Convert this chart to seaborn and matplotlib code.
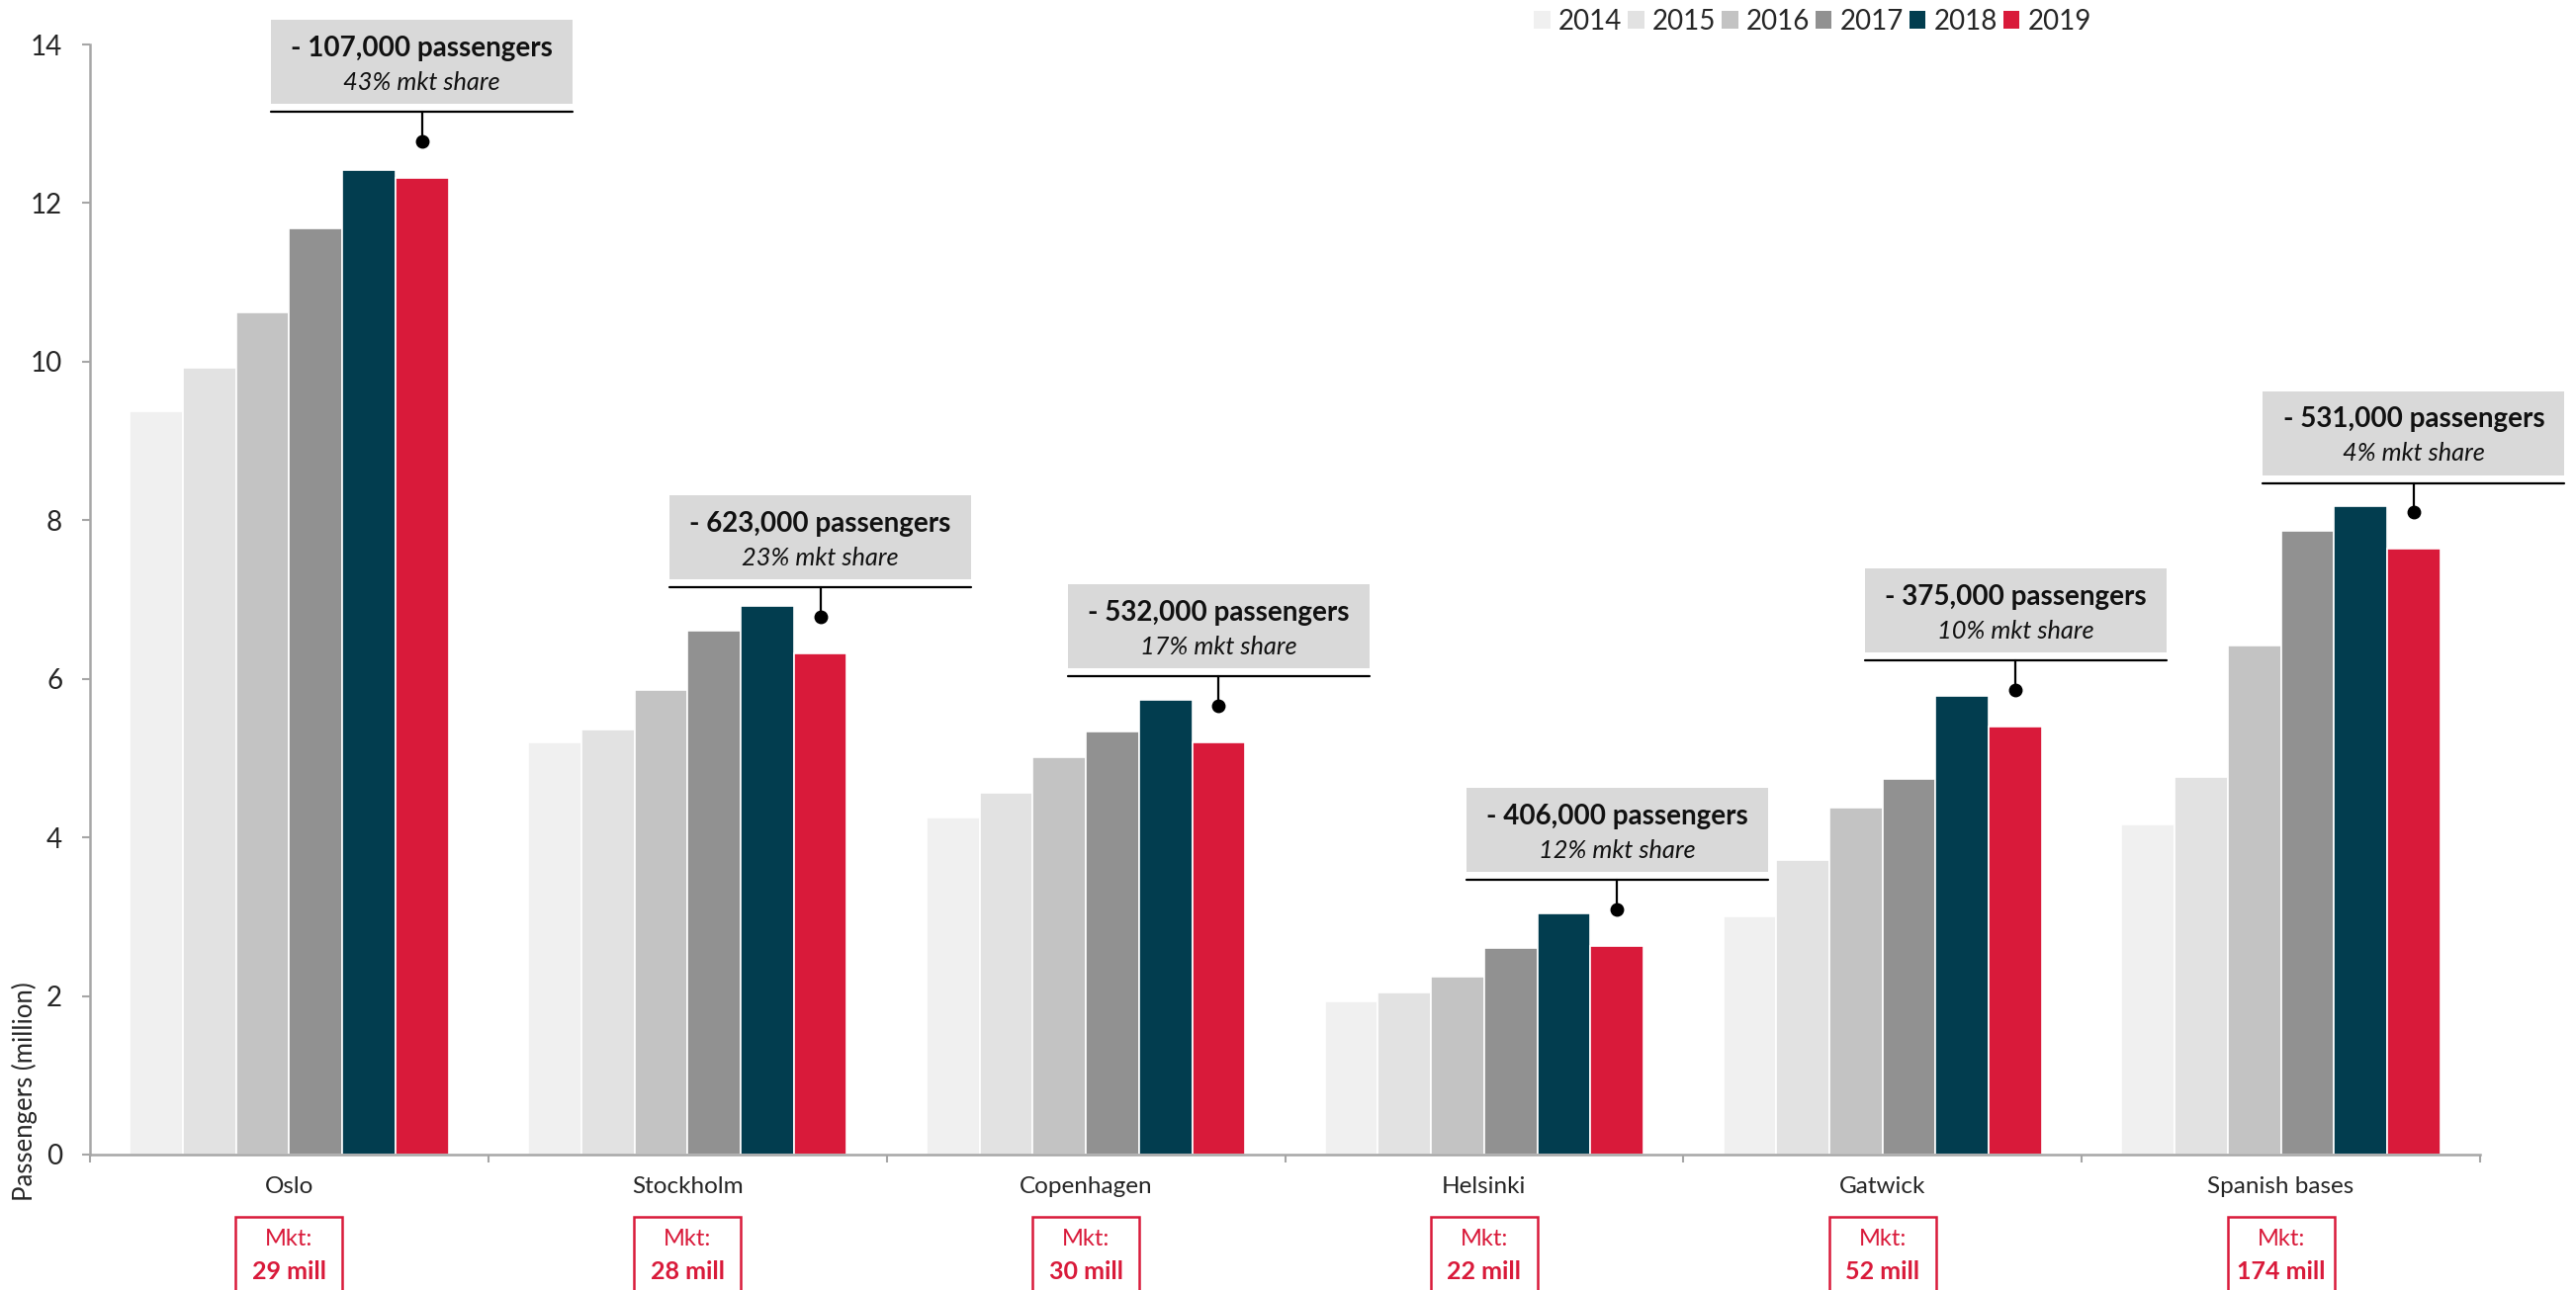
import numpy as np
import pandas as pd
import matplotlib
matplotlib.use("Agg")
import matplotlib.pyplot as plt
import matplotlib.transforms as mtransforms
from matplotlib.patches import Rectangle, Patch
import seaborn as sns

# ---------------- data ----------------
airports = ["Oslo", "Stockholm", "Copenhagen", "Helsinki", "Gatwick", "Spanish bases"]
years = ["2014", "2015", "2016", "2017", "2018", "2019"]
v2014 = [9.38, 5.20, 4.25, 1.93, 3.00, 4.16]
v2015 = [9.92, 5.36, 4.56, 2.05, 3.71, 4.76]
v2016 = [10.62, 5.86, 5.01, 2.24, 4.37, 6.42]
v2017 = [11.68, 6.61, 5.34, 2.61, 4.74, 7.87]
v2018 = [12.42, 6.92, 5.74, 3.04, 5.78, 8.18]
v2019 = [12.32, 6.32, 5.20, 2.63, 5.40, 7.64]
loss_labels = ["- 107,000 passengers", "- 623,000 passengers", "- 532,000 passengers",
               "- 406,000 passengers", "- 375,000 passengers", "- 531,000 passengers"]
share_labels = ["43% mkt share", "23% mkt share", "17% mkt share",
                "12% mkt share", "10% mkt share", "4% mkt share"]
market_labels = ["29 mill", "28 mill", "30 mill", "22 mill", "52 mill", "174 mill"]
yticks = [0, 2, 4, 6, 8, 10, 12, 14]

colors = ["#f0f0f0", "#e2e2e2", "#c3c3c3", "#919191", "#023d4f", "#d91a3a"]
RED = "#d91a3a"

series = [v2014, v2015, v2016, v2017, v2018, v2019]
rows = []
for y, vals in zip(years, series):
    for a, v in zip(airports, vals):
        rows.append({"airport": a, "year": y, "value": v})
df = pd.DataFrame(rows)

sns.set_style("white")
FONT = ["Lato", "DejaVu Sans"]
plt.rcParams["font.family"] = FONT

fig = plt.figure(figsize=(26.05, 13.05), dpi=100)
ax = fig.add_axes([91 / 2605, 1 - 1168 / 1305, (2508 - 91) / 2605, (1168 - 45) / 1305])

sns.barplot(data=df, x="airport", y="value", hue="year", order=airports, hue_order=years,
            palette=colors, width=0.8, gap=0, edgecolor="white", linewidth=1.2,
            saturation=1, ax=ax, legend=False, errorbar=None)

ax.set_xlim(-0.5, len(airports) - 0.5)
ax.set_ylim(0, 14)
ax.set_yticks(yticks)
ax.set_ylabel("Passengers (million)", fontsize=18.5, loc="bottom")
ax.yaxis.set_label_coords((38 - 91) / 2417, (1168 - 1215) / 1123)
ax.set_xlabel("")
for s in ["top", "right"]:
    ax.spines[s].set_visible(False)
for s in ["left", "bottom"]:
    ax.spines[s].set_color("#a6a6a6")
    ax.spines[s].set_linewidth(1.8)
ax.tick_params(axis="y", length=6, width=1.5, color="#a6a6a6", labelsize=20, pad=14, left=True)
ax.tick_params(axis="x", which="major", length=0, labelsize=17.5, pad=16, bottom=True)
ax.set_xticks(np.arange(-0.5, len(airports), 1.0), minor=True)
ax.tick_params(axis="x", which="minor", length=6, width=1.5, color="#a6a6a6", bottom=True)

# annotations above 2019 bars
bars2019 = ax.containers[5]
for i, p in enumerate(bars2019.patches):
    xc = p.get_x() + p.get_width() / 2
    top = p.get_height()
    dot_y = top + 0.46
    line_y = dot_y + 0.37
    box_b = line_y + 0.10
    box_h = 1.06
    half = 0.757 / 2
    ax.add_patch(Rectangle((xc - half, box_b), 2 * half, box_h, facecolor="#d9d9d9",
                           edgecolor="none", clip_on=False, zorder=5))
    ax.plot([xc - half, xc + half], [line_y, line_y], color="black", lw=1.6,
            clip_on=False, zorder=5)
    ax.plot([xc, xc], [line_y, dot_y], color="black", lw=1.6, clip_on=False, zorder=5)
    ax.plot([xc], [dot_y], marker="o", ms=9, color="black", clip_on=False, zorder=6)
    ax.text(xc, box_b + 0.70, loss_labels[i], ha="center", va="center", fontsize=20,
            fontweight="bold", color="#111111", zorder=7, clip_on=False)
    ax.text(xc, box_b + 0.27, share_labels[i], ha="center", va="center", fontsize=18.3,
            fontstyle="italic", color="#111111", zorder=7, clip_on=False)

# market size boxes under categories
trans = mtransforms.blended_transform_factory(ax.transData, fig.transFigure)
for i, lab in enumerate(market_labels):
    hw = 0.134
    fig_top = 1 - 1231 / 1305
    ax.add_patch(Rectangle((i - hw, -0.02), 2 * hw, fig_top + 0.02, transform=trans,
                           facecolor="white", edgecolor=RED, lw=1.8, clip_on=False))
    ax.text(i, 1 - 1253 / 1305, "Mkt:", transform=trans, ha="center", va="center",
            fontsize=17, color=RED, clip_on=False)
    ax.text(i, 1 - 1287 / 1305, lab, transform=trans, ha="center", va="center",
            fontsize=18, fontweight="bold", color=RED, clip_on=False)

# legend
handles = [Patch(facecolor=c, edgecolor="none") for c in colors]
fig.legend(handles, years, loc="center", bbox_to_anchor=(1833 / 2605, 1 - 22 / 1305),
           ncol=6, frameon=False, fontsize=20, handlelength=0.6, handleheight=0.6,
           handletextpad=0.3, columnspacing=0.2)

fig.savefig("out.png", dpi=100)
